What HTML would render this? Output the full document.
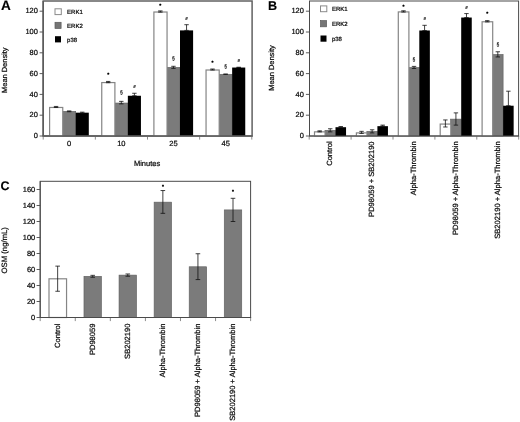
<!DOCTYPE html>
<html lang="en"><head><meta charset="utf-8"><title>Figure</title>
<style>
html,body{margin:0;padding:0;background:#fff;}
body{width:520px;height:422px;overflow:hidden;}
svg{display:block;filter:blur(0.35px);}
text{stroke:#000;stroke-width:.22px;text-rendering:geometricPrecision;}
</style></head><body>
<svg width="520" height="422" viewBox="0 0 520 422" font-family='&quot;Liberation Sans&quot;, Arial, sans-serif'>
<rect width="520" height="422" fill="#fff"/>
<rect x="43.20" y="1.00" width="208.90" height="135.00" fill="none" stroke="#5c5c5c" stroke-width="1.45"/>
<line x1="39.60" y1="136.00" x2="43.20" y2="136.00" stroke="#4a4a4a" stroke-width="0.9"/>
<text x="37.80" y="138.15" font-size="7.45" text-anchor="end" fill="#111">0</text>
<line x1="39.60" y1="115.20" x2="43.20" y2="115.20" stroke="#4a4a4a" stroke-width="0.9"/>
<text x="37.80" y="117.35" font-size="7.45" text-anchor="end" fill="#111">20</text>
<line x1="39.60" y1="94.40" x2="43.20" y2="94.40" stroke="#4a4a4a" stroke-width="0.9"/>
<text x="37.80" y="96.55" font-size="7.45" text-anchor="end" fill="#111">40</text>
<line x1="39.60" y1="73.60" x2="43.20" y2="73.60" stroke="#4a4a4a" stroke-width="0.9"/>
<text x="37.80" y="75.75" font-size="7.45" text-anchor="end" fill="#111">60</text>
<line x1="39.60" y1="52.80" x2="43.20" y2="52.80" stroke="#4a4a4a" stroke-width="0.9"/>
<text x="37.80" y="54.95" font-size="7.45" text-anchor="end" fill="#111">80</text>
<line x1="39.60" y1="32.00" x2="43.20" y2="32.00" stroke="#4a4a4a" stroke-width="0.9"/>
<text x="37.80" y="34.15" font-size="7.45" text-anchor="end" fill="#111">100</text>
<line x1="39.60" y1="11.20" x2="43.20" y2="11.20" stroke="#4a4a4a" stroke-width="0.9"/>
<text x="37.80" y="13.35" font-size="7.45" text-anchor="end" fill="#111">120</text>
<line x1="43.20" y1="136.00" x2="43.20" y2="139.60" stroke="#808080" stroke-width="0.9"/>
<line x1="95.35" y1="136.00" x2="95.35" y2="139.60" stroke="#808080" stroke-width="0.9"/>
<line x1="147.50" y1="136.00" x2="147.50" y2="139.60" stroke="#808080" stroke-width="0.9"/>
<line x1="199.65" y1="136.00" x2="199.65" y2="139.60" stroke="#808080" stroke-width="0.9"/>
<line x1="251.80" y1="136.00" x2="251.80" y2="139.60" stroke="#808080" stroke-width="0.9"/>
<text x="1.00" y="10.00" font-size="13.6" text-anchor="start" fill="#000" font-weight="bold" style="stroke-width:.12px">A</text>
<text x="6.80" y="70.20" font-size="7.45" text-anchor="middle" fill="#111" transform="rotate(-90 6.80 70.20)">Mean Density</text>
<rect x="55.00" y="8.80" width="6.30" height="5.80" fill="#fff" stroke="#8a8a8a" stroke-width="1"/>
<text x="67.10" y="13.80" font-size="6.0" text-anchor="start" fill="#111">ERK1</text>
<rect x="55.00" y="22.30" width="6.10" height="6.20" fill="#757575" stroke="#5a5a5a" stroke-width="0.7"/>
<text x="67.10" y="27.60" font-size="6.0" text-anchor="start" fill="#111">ERK2</text>
<rect x="55.00" y="36.20" width="6.00" height="6.20" fill="#000"/>
<text x="67.10" y="41.50" font-size="6.0" text-anchor="start" fill="#111">p38</text>
<rect x="62.60" y="111.33" width="13.10" height="24.67" fill="#7b7b7b" stroke="#5e5e5e" stroke-width="0.6"/>
<line x1="69.15" y1="110.91" x2="69.15" y2="111.74" stroke="#111" stroke-width="0.8"/>
<line x1="66.95" y1="110.91" x2="71.35" y2="110.91" stroke="#111" stroke-width="0.8"/>
<line x1="66.95" y1="111.74" x2="71.35" y2="111.74" stroke="#111" stroke-width="0.8"/>
<rect x="75.70" y="112.67" width="13.10" height="23.33" fill="#000"/>
<line x1="82.25" y1="112.16" x2="82.25" y2="113.19" stroke="#111" stroke-width="0.8"/>
<line x1="80.05" y1="112.16" x2="84.45" y2="112.16" stroke="#111" stroke-width="0.8"/>
<line x1="80.05" y1="113.19" x2="84.45" y2="113.19" stroke="#111" stroke-width="0.8"/>
<rect x="49.60" y="107.47" width="13.15" height="28.53" fill="#fff" stroke="#858585" stroke-width="1.2"/>
<line x1="56.05" y1="106.45" x2="56.05" y2="107.49" stroke="#111" stroke-width="0.8"/>
<line x1="53.85" y1="106.45" x2="58.25" y2="106.45" stroke="#111" stroke-width="0.8"/>
<line x1="53.85" y1="107.49" x2="58.25" y2="107.49" stroke="#111" stroke-width="0.8"/>
<rect x="114.75" y="103.03" width="13.10" height="32.97" fill="#7b7b7b" stroke="#5e5e5e" stroke-width="0.6"/>
<line x1="121.30" y1="101.37" x2="121.30" y2="103.86" stroke="#111" stroke-width="0.8"/>
<line x1="119.10" y1="101.37" x2="123.50" y2="101.37" stroke="#111" stroke-width="0.8"/>
<line x1="119.10" y1="103.86" x2="123.50" y2="103.86" stroke="#111" stroke-width="0.8"/>
<text x="121.30" y="94.20" font-size="5.1" text-anchor="middle" fill="#222" style="stroke-width:.18px">§</text>
<rect x="127.85" y="95.76" width="13.10" height="40.24" fill="#000"/>
<line x1="134.40" y1="93.27" x2="134.40" y2="95.76" stroke="#111" stroke-width="0.8"/>
<line x1="132.20" y1="93.27" x2="136.60" y2="93.27" stroke="#111" stroke-width="0.8"/>
<line x1="132.20" y1="95.76" x2="136.60" y2="95.76" stroke="#111" stroke-width="0.8"/>
<text x="134.40" y="88.10" font-size="4.3" text-anchor="middle" font-style="italic" font-weight="bold" fill="#111" style="stroke-width:.1px">#</text>
<rect x="101.75" y="82.57" width="13.15" height="53.43" fill="#fff" stroke="#858585" stroke-width="1.2"/>
<line x1="108.20" y1="81.45" x2="108.20" y2="82.69" stroke="#111" stroke-width="0.8"/>
<line x1="106.00" y1="81.45" x2="110.40" y2="81.45" stroke="#111" stroke-width="0.8"/>
<line x1="106.00" y1="82.69" x2="110.40" y2="82.69" stroke="#111" stroke-width="0.8"/>
<text x="108.20" y="76.30" font-size="7" text-anchor="middle" fill="#000">•</text>
<rect x="166.90" y="67.34" width="13.10" height="68.66" fill="#7b7b7b" stroke="#5e5e5e" stroke-width="0.6"/>
<line x1="173.45" y1="66.30" x2="173.45" y2="68.37" stroke="#111" stroke-width="0.8"/>
<line x1="171.25" y1="66.30" x2="175.65" y2="66.30" stroke="#111" stroke-width="0.8"/>
<line x1="171.25" y1="68.37" x2="175.65" y2="68.37" stroke="#111" stroke-width="0.8"/>
<text x="173.45" y="60.00" font-size="5.1" text-anchor="middle" fill="#222" style="stroke-width:.18px">§</text>
<rect x="180.00" y="30.40" width="13.10" height="105.60" fill="#000"/>
<line x1="186.55" y1="24.69" x2="186.55" y2="30.40" stroke="#111" stroke-width="0.8"/>
<line x1="184.35" y1="24.69" x2="188.75" y2="24.69" stroke="#111" stroke-width="0.8"/>
<line x1="184.35" y1="30.40" x2="188.75" y2="30.40" stroke="#111" stroke-width="0.8"/>
<text x="186.55" y="20.35" font-size="4.3" text-anchor="middle" font-style="italic" font-weight="bold" fill="#111" style="stroke-width:.1px">#</text>
<rect x="153.90" y="12.02" width="13.15" height="123.98" fill="#fff" stroke="#858585" stroke-width="1.2"/>
<line x1="160.35" y1="10.90" x2="160.35" y2="12.14" stroke="#111" stroke-width="0.8"/>
<line x1="158.15" y1="10.90" x2="162.55" y2="10.90" stroke="#111" stroke-width="0.8"/>
<line x1="158.15" y1="12.14" x2="162.55" y2="12.14" stroke="#111" stroke-width="0.8"/>
<text x="160.35" y="7.10" font-size="7" text-anchor="middle" fill="#000">•</text>
<rect x="219.05" y="74.29" width="13.10" height="61.71" fill="#7b7b7b" stroke="#5e5e5e" stroke-width="0.6"/>
<line x1="225.60" y1="74.03" x2="225.60" y2="74.39" stroke="#111" stroke-width="0.8"/>
<line x1="223.40" y1="74.03" x2="227.80" y2="74.03" stroke="#111" stroke-width="0.8"/>
<line x1="223.40" y1="74.39" x2="227.80" y2="74.39" stroke="#111" stroke-width="0.8"/>
<text x="225.60" y="67.90" font-size="5.1" text-anchor="middle" fill="#222" style="stroke-width:.18px">§</text>
<rect x="232.15" y="67.54" width="13.10" height="68.46" fill="#000"/>
<line x1="238.70" y1="67.23" x2="238.70" y2="67.54" stroke="#111" stroke-width="0.8"/>
<line x1="236.50" y1="67.23" x2="240.90" y2="67.23" stroke="#111" stroke-width="0.8"/>
<line x1="236.50" y1="67.54" x2="240.90" y2="67.54" stroke="#111" stroke-width="0.8"/>
<text x="238.70" y="61.80" font-size="4.3" text-anchor="middle" font-style="italic" font-weight="bold" fill="#111" style="stroke-width:.1px">#</text>
<rect x="206.05" y="70.01" width="13.15" height="65.99" fill="#fff" stroke="#858585" stroke-width="1.2"/>
<line x1="212.50" y1="69.00" x2="212.50" y2="70.03" stroke="#111" stroke-width="0.8"/>
<line x1="210.30" y1="69.00" x2="214.70" y2="69.00" stroke="#111" stroke-width="0.8"/>
<line x1="210.30" y1="70.03" x2="214.70" y2="70.03" stroke="#111" stroke-width="0.8"/>
<text x="212.50" y="63.80" font-size="7" text-anchor="middle" fill="#000">•</text>
<line x1="42.70" y1="136.00" x2="252.60" y2="136.00" stroke="#5c5c5c" stroke-width="1.45"/>
<line x1="43.20" y1="1.00" x2="43.20" y2="136.00" stroke="#5c5c5c" stroke-width="1.45"/>
<text x="69.20" y="146.20" font-size="7.5" text-anchor="middle" fill="#111">0</text>
<text x="121.35" y="146.20" font-size="7.5" text-anchor="middle" fill="#111">10</text>
<text x="173.50" y="146.20" font-size="7.5" text-anchor="middle" fill="#111">25</text>
<text x="225.65" y="146.20" font-size="7.5" text-anchor="middle" fill="#111">45</text>
<text x="147.10" y="165.50" font-size="7.5" text-anchor="middle" fill="#111">Minutes</text>
<rect x="309.50" y="1.00" width="209.10" height="135.00" fill="none" stroke="#4a4a4a" stroke-width="1"/>
<line x1="305.90" y1="136.00" x2="309.50" y2="136.00" stroke="#4a4a4a" stroke-width="0.9"/>
<text x="303.80" y="138.15" font-size="7.45" text-anchor="end" fill="#111">0</text>
<line x1="305.90" y1="115.20" x2="309.50" y2="115.20" stroke="#4a4a4a" stroke-width="0.9"/>
<text x="303.80" y="117.35" font-size="7.45" text-anchor="end" fill="#111">20</text>
<line x1="305.90" y1="94.40" x2="309.50" y2="94.40" stroke="#4a4a4a" stroke-width="0.9"/>
<text x="303.80" y="96.55" font-size="7.45" text-anchor="end" fill="#111">40</text>
<line x1="305.90" y1="73.60" x2="309.50" y2="73.60" stroke="#4a4a4a" stroke-width="0.9"/>
<text x="303.80" y="75.75" font-size="7.45" text-anchor="end" fill="#111">60</text>
<line x1="305.90" y1="52.80" x2="309.50" y2="52.80" stroke="#4a4a4a" stroke-width="0.9"/>
<text x="303.80" y="54.95" font-size="7.45" text-anchor="end" fill="#111">80</text>
<line x1="305.90" y1="32.00" x2="309.50" y2="32.00" stroke="#4a4a4a" stroke-width="0.9"/>
<text x="303.80" y="34.15" font-size="7.45" text-anchor="end" fill="#111">100</text>
<line x1="305.90" y1="11.20" x2="309.50" y2="11.20" stroke="#4a4a4a" stroke-width="0.9"/>
<text x="303.80" y="13.35" font-size="7.45" text-anchor="end" fill="#111">120</text>
<line x1="309.20" y1="136.00" x2="309.20" y2="139.60" stroke="#808080" stroke-width="0.9"/>
<line x1="351.10" y1="136.00" x2="351.10" y2="139.60" stroke="#808080" stroke-width="0.9"/>
<line x1="393.00" y1="136.00" x2="393.00" y2="139.60" stroke="#808080" stroke-width="0.9"/>
<line x1="434.90" y1="136.00" x2="434.90" y2="139.60" stroke="#808080" stroke-width="0.9"/>
<line x1="476.80" y1="136.00" x2="476.80" y2="139.60" stroke="#808080" stroke-width="0.9"/>
<line x1="518.70" y1="136.00" x2="518.70" y2="139.60" stroke="#808080" stroke-width="0.9"/>
<text x="267.90" y="10.10" font-size="12.6" text-anchor="start" fill="#000" font-weight="bold" style="stroke-width:.12px">B</text>
<text x="274.20" y="68.00" font-size="7.45" text-anchor="middle" fill="#111" transform="rotate(-90 274.20 68.00)">Mean Density</text>
<rect x="320.50" y="5.90" width="6.30" height="5.80" fill="#fff" stroke="#8a8a8a" stroke-width="1"/>
<text x="331.90" y="10.90" font-size="6.0" text-anchor="start" fill="#111">ERK1</text>
<rect x="320.50" y="20.60" width="6.10" height="6.20" fill="#757575" stroke="#5a5a5a" stroke-width="0.7"/>
<text x="331.90" y="25.90" font-size="6.0" text-anchor="start" fill="#111">ERK2</text>
<rect x="320.50" y="35.50" width="6.00" height="6.20" fill="#000"/>
<text x="331.90" y="40.80" font-size="6.0" text-anchor="start" fill="#111">p38</text>
<rect x="324.95" y="130.31" width="10.55" height="5.69" fill="#7b7b7b" stroke="#5e5e5e" stroke-width="0.6"/>
<line x1="330.23" y1="128.76" x2="330.23" y2="131.87" stroke="#111" stroke-width="0.8"/>
<line x1="328.03" y1="128.76" x2="332.43" y2="128.76" stroke="#111" stroke-width="0.8"/>
<line x1="328.03" y1="131.87" x2="332.43" y2="131.87" stroke="#111" stroke-width="0.8"/>
<rect x="335.50" y="127.20" width="10.55" height="8.80" fill="#000"/>
<line x1="340.77" y1="126.58" x2="340.77" y2="127.20" stroke="#111" stroke-width="0.8"/>
<line x1="338.57" y1="126.58" x2="342.97" y2="126.58" stroke="#111" stroke-width="0.8"/>
<line x1="338.57" y1="127.20" x2="342.97" y2="127.20" stroke="#111" stroke-width="0.8"/>
<rect x="314.50" y="131.85" width="10.60" height="4.15" fill="#fff" stroke="#858585" stroke-width="1.2"/>
<line x1="319.67" y1="130.83" x2="319.67" y2="131.87" stroke="#111" stroke-width="0.8"/>
<line x1="317.47" y1="130.83" x2="321.87" y2="130.83" stroke="#111" stroke-width="0.8"/>
<line x1="317.47" y1="131.87" x2="321.87" y2="131.87" stroke="#111" stroke-width="0.8"/>
<rect x="366.85" y="131.35" width="10.55" height="4.65" fill="#7b7b7b" stroke="#5e5e5e" stroke-width="0.6"/>
<line x1="372.12" y1="129.79" x2="372.12" y2="132.91" stroke="#111" stroke-width="0.8"/>
<line x1="369.93" y1="129.79" x2="374.32" y2="129.79" stroke="#111" stroke-width="0.8"/>
<line x1="369.93" y1="132.91" x2="374.32" y2="132.91" stroke="#111" stroke-width="0.8"/>
<rect x="377.40" y="126.16" width="10.55" height="9.84" fill="#000"/>
<line x1="382.67" y1="125.12" x2="382.67" y2="126.16" stroke="#111" stroke-width="0.8"/>
<line x1="380.47" y1="125.12" x2="384.87" y2="125.12" stroke="#111" stroke-width="0.8"/>
<line x1="380.47" y1="126.16" x2="384.87" y2="126.16" stroke="#111" stroke-width="0.8"/>
<rect x="356.40" y="132.89" width="10.60" height="3.11" fill="#fff" stroke="#858585" stroke-width="1.2"/>
<line x1="361.57" y1="131.35" x2="361.57" y2="133.43" stroke="#111" stroke-width="0.8"/>
<line x1="359.37" y1="131.35" x2="363.77" y2="131.35" stroke="#111" stroke-width="0.8"/>
<line x1="359.37" y1="133.43" x2="363.77" y2="133.43" stroke="#111" stroke-width="0.8"/>
<rect x="408.75" y="67.44" width="10.55" height="68.56" fill="#7b7b7b" stroke="#5e5e5e" stroke-width="0.6"/>
<line x1="414.02" y1="66.40" x2="414.02" y2="68.48" stroke="#111" stroke-width="0.8"/>
<line x1="411.82" y1="66.40" x2="416.22" y2="66.40" stroke="#111" stroke-width="0.8"/>
<line x1="411.82" y1="68.48" x2="416.22" y2="68.48" stroke="#111" stroke-width="0.8"/>
<text x="414.02" y="60.75" font-size="5.1" text-anchor="middle" fill="#222" style="stroke-width:.18px">§</text>
<rect x="419.30" y="30.50" width="10.55" height="105.50" fill="#000"/>
<line x1="424.58" y1="25.32" x2="424.58" y2="30.50" stroke="#111" stroke-width="0.8"/>
<line x1="422.38" y1="25.32" x2="426.78" y2="25.32" stroke="#111" stroke-width="0.8"/>
<line x1="422.38" y1="30.50" x2="426.78" y2="30.50" stroke="#111" stroke-width="0.8"/>
<text x="424.58" y="20.35" font-size="4.3" text-anchor="middle" font-style="italic" font-weight="bold" fill="#111" style="stroke-width:.1px">#</text>
<rect x="398.30" y="11.91" width="10.60" height="124.09" fill="#fff" stroke="#858585" stroke-width="1.2"/>
<line x1="403.48" y1="10.79" x2="403.48" y2="12.04" stroke="#111" stroke-width="0.8"/>
<line x1="401.28" y1="10.79" x2="405.68" y2="10.79" stroke="#111" stroke-width="0.8"/>
<line x1="401.28" y1="12.04" x2="405.68" y2="12.04" stroke="#111" stroke-width="0.8"/>
<text x="403.48" y="7.60" font-size="7" text-anchor="middle" fill="#000">•</text>
<rect x="450.65" y="119.11" width="10.55" height="16.89" fill="#7b7b7b" stroke="#5e5e5e" stroke-width="0.6"/>
<line x1="455.92" y1="112.88" x2="455.92" y2="125.12" stroke="#111" stroke-width="0.8"/>
<line x1="453.72" y1="112.88" x2="458.12" y2="112.88" stroke="#111" stroke-width="0.8"/>
<line x1="453.72" y1="125.12" x2="458.12" y2="125.12" stroke="#111" stroke-width="0.8"/>
<rect x="461.20" y="17.54" width="10.55" height="118.46" fill="#000"/>
<line x1="466.48" y1="13.59" x2="466.48" y2="17.54" stroke="#111" stroke-width="0.8"/>
<line x1="464.28" y1="13.59" x2="468.68" y2="13.59" stroke="#111" stroke-width="0.8"/>
<line x1="464.28" y1="17.54" x2="468.68" y2="17.54" stroke="#111" stroke-width="0.8"/>
<text x="466.48" y="8.60" font-size="4.3" text-anchor="middle" font-style="italic" font-weight="bold" fill="#111" style="stroke-width:.1px">#</text>
<rect x="440.20" y="124.07" width="10.60" height="11.93" fill="#fff" stroke="#858585" stroke-width="1.2"/>
<line x1="445.38" y1="119.94" x2="445.38" y2="126.99" stroke="#111" stroke-width="0.8"/>
<line x1="443.18" y1="119.94" x2="447.57" y2="119.94" stroke="#111" stroke-width="0.8"/>
<line x1="443.18" y1="126.99" x2="447.57" y2="126.99" stroke="#111" stroke-width="0.8"/>
<rect x="492.55" y="54.47" width="10.55" height="81.53" fill="#7b7b7b" stroke="#5e5e5e" stroke-width="0.6"/>
<line x1="497.82" y1="51.77" x2="497.82" y2="56.96" stroke="#111" stroke-width="0.8"/>
<line x1="495.62" y1="51.77" x2="500.02" y2="51.77" stroke="#111" stroke-width="0.8"/>
<line x1="495.62" y1="56.96" x2="500.02" y2="56.96" stroke="#111" stroke-width="0.8"/>
<text x="497.82" y="45.75" font-size="5.1" text-anchor="middle" fill="#222" style="stroke-width:.18px">§</text>
<rect x="503.10" y="105.72" width="10.55" height="30.28" fill="#000"/>
<line x1="508.38" y1="91.20" x2="508.38" y2="105.72" stroke="#111" stroke-width="0.8"/>
<line x1="506.18" y1="91.20" x2="510.57" y2="91.20" stroke="#111" stroke-width="0.8"/>
<line x1="506.18" y1="105.72" x2="510.57" y2="105.72" stroke="#111" stroke-width="0.8"/>
<rect x="482.10" y="21.77" width="10.60" height="114.23" fill="#fff" stroke="#858585" stroke-width="1.2"/>
<line x1="487.27" y1="20.65" x2="487.27" y2="21.89" stroke="#111" stroke-width="0.8"/>
<line x1="485.07" y1="20.65" x2="489.47" y2="20.65" stroke="#111" stroke-width="0.8"/>
<line x1="485.07" y1="21.89" x2="489.47" y2="21.89" stroke="#111" stroke-width="0.8"/>
<text x="487.27" y="15.10" font-size="7" text-anchor="middle" fill="#000">•</text>
<line x1="309.00" y1="136.00" x2="519.10" y2="136.00" stroke="#4a4a4a" stroke-width="1"/>
<line x1="309.50" y1="1.00" x2="309.50" y2="136.00" stroke="#4a4a4a" stroke-width="1"/>
<text x="332.30" y="141.40" font-size="7.57" text-anchor="end" fill="#111" transform="rotate(-90 332.30 141.40)">Control</text>
<text x="374.20" y="141.40" font-size="7.57" text-anchor="end" fill="#111" transform="rotate(-90 374.20 141.40)">PD98059 + SB202190</text>
<text x="416.10" y="141.40" font-size="7.57" text-anchor="end" fill="#111" transform="rotate(-90 416.10 141.40)">Alpha-Thrombin</text>
<text x="458.00" y="141.40" font-size="7.57" text-anchor="end" fill="#111" transform="rotate(-90 458.00 141.40)">PD98059 + Alpha-Thrombin</text>
<text x="499.90" y="141.40" font-size="7.57" text-anchor="end" fill="#111" transform="rotate(-90 499.90 141.40)">SB202190 + Alpha-Thrombin</text>
<rect x="40.20" y="181.30" width="210.40" height="136.20" fill="none" stroke="#4a4a4a" stroke-width="1"/>
<line x1="36.60" y1="317.50" x2="40.20" y2="317.50" stroke="#4a4a4a" stroke-width="0.9"/>
<text x="35.20" y="319.55" font-size="7.45" text-anchor="end" fill="#111">0</text>
<line x1="36.60" y1="301.50" x2="40.20" y2="301.50" stroke="#4a4a4a" stroke-width="0.9"/>
<text x="35.20" y="303.55" font-size="7.45" text-anchor="end" fill="#111">20</text>
<line x1="36.60" y1="285.50" x2="40.20" y2="285.50" stroke="#4a4a4a" stroke-width="0.9"/>
<text x="35.20" y="287.55" font-size="7.45" text-anchor="end" fill="#111">40</text>
<line x1="36.60" y1="269.50" x2="40.20" y2="269.50" stroke="#4a4a4a" stroke-width="0.9"/>
<text x="35.20" y="271.55" font-size="7.45" text-anchor="end" fill="#111">60</text>
<line x1="36.60" y1="253.50" x2="40.20" y2="253.50" stroke="#4a4a4a" stroke-width="0.9"/>
<text x="35.20" y="255.55" font-size="7.45" text-anchor="end" fill="#111">80</text>
<line x1="36.60" y1="237.50" x2="40.20" y2="237.50" stroke="#4a4a4a" stroke-width="0.9"/>
<text x="35.20" y="239.55" font-size="7.45" text-anchor="end" fill="#111">100</text>
<line x1="36.60" y1="221.50" x2="40.20" y2="221.50" stroke="#4a4a4a" stroke-width="0.9"/>
<text x="35.20" y="223.55" font-size="7.45" text-anchor="end" fill="#111">120</text>
<line x1="36.60" y1="205.50" x2="40.20" y2="205.50" stroke="#4a4a4a" stroke-width="0.9"/>
<text x="35.20" y="207.55" font-size="7.45" text-anchor="end" fill="#111">140</text>
<line x1="36.60" y1="189.50" x2="40.20" y2="189.50" stroke="#4a4a4a" stroke-width="0.9"/>
<text x="35.20" y="191.55" font-size="7.45" text-anchor="end" fill="#111">160</text>
<line x1="40.20" y1="317.50" x2="40.20" y2="321.10" stroke="#808080" stroke-width="0.9"/>
<line x1="75.27" y1="317.50" x2="75.27" y2="321.10" stroke="#808080" stroke-width="0.9"/>
<line x1="110.34" y1="317.50" x2="110.34" y2="321.10" stroke="#808080" stroke-width="0.9"/>
<line x1="145.41" y1="317.50" x2="145.41" y2="321.10" stroke="#808080" stroke-width="0.9"/>
<line x1="180.48" y1="317.50" x2="180.48" y2="321.10" stroke="#808080" stroke-width="0.9"/>
<line x1="215.55" y1="317.50" x2="215.55" y2="321.10" stroke="#808080" stroke-width="0.9"/>
<line x1="250.62" y1="317.50" x2="250.62" y2="321.10" stroke="#808080" stroke-width="0.9"/>
<text x="0.50" y="190.00" font-size="12.5" text-anchor="start" fill="#000" font-weight="bold" style="stroke-width:.12px">C</text>
<text x="6.90" y="250.30" font-size="7.72" text-anchor="middle" fill="#111" transform="rotate(-90 6.90 250.30)">OSM (ng/mL)</text>
<rect x="49.00" y="278.80" width="17.55" height="38.70" fill="#fff" stroke="#858585" stroke-width="1.2"/>
<line x1="57.65" y1="266.14" x2="57.65" y2="291.26" stroke="#111" stroke-width="0.8"/>
<line x1="55.35" y1="266.14" x2="59.95" y2="266.14" stroke="#111" stroke-width="0.8"/>
<line x1="55.35" y1="291.26" x2="59.95" y2="291.26" stroke="#111" stroke-width="0.8"/>
<rect x="83.97" y="276.30" width="17.50" height="41.20" fill="#7b7b7b" stroke="#5e5e5e" stroke-width="0.6"/>
<line x1="92.72" y1="275.34" x2="92.72" y2="277.26" stroke="#111" stroke-width="0.8"/>
<line x1="90.42" y1="275.34" x2="95.02" y2="275.34" stroke="#111" stroke-width="0.8"/>
<line x1="90.42" y1="277.26" x2="95.02" y2="277.26" stroke="#111" stroke-width="0.8"/>
<rect x="119.04" y="275.10" width="17.50" height="42.40" fill="#7b7b7b" stroke="#5e5e5e" stroke-width="0.6"/>
<line x1="127.79" y1="273.98" x2="127.79" y2="276.22" stroke="#111" stroke-width="0.8"/>
<line x1="125.49" y1="273.98" x2="130.09" y2="273.98" stroke="#111" stroke-width="0.8"/>
<line x1="125.49" y1="276.22" x2="130.09" y2="276.22" stroke="#111" stroke-width="0.8"/>
<rect x="154.11" y="202.14" width="17.50" height="115.36" fill="#7b7b7b" stroke="#5e5e5e" stroke-width="0.6"/>
<line x1="162.86" y1="190.54" x2="162.86" y2="213.34" stroke="#111" stroke-width="0.8"/>
<line x1="160.56" y1="190.54" x2="165.16" y2="190.54" stroke="#111" stroke-width="0.8"/>
<line x1="160.56" y1="213.34" x2="165.16" y2="213.34" stroke="#111" stroke-width="0.8"/>
<text x="162.86" y="188.40" font-size="7" text-anchor="middle" fill="#000">•</text>
<rect x="189.18" y="266.78" width="17.50" height="50.72" fill="#7b7b7b" stroke="#5e5e5e" stroke-width="0.6"/>
<line x1="197.93" y1="253.74" x2="197.93" y2="279.58" stroke="#111" stroke-width="0.8"/>
<line x1="195.63" y1="253.74" x2="200.23" y2="253.74" stroke="#111" stroke-width="0.8"/>
<line x1="195.63" y1="279.58" x2="200.23" y2="279.58" stroke="#111" stroke-width="0.8"/>
<rect x="224.25" y="209.90" width="17.50" height="107.60" fill="#7b7b7b" stroke="#5e5e5e" stroke-width="0.6"/>
<line x1="233.00" y1="198.30" x2="233.00" y2="221.50" stroke="#111" stroke-width="0.8"/>
<line x1="230.70" y1="198.30" x2="235.30" y2="198.30" stroke="#111" stroke-width="0.8"/>
<line x1="230.70" y1="221.50" x2="235.30" y2="221.50" stroke="#111" stroke-width="0.8"/>
<text x="233.00" y="193.30" font-size="7" text-anchor="middle" fill="#000">•</text>
<line x1="39.70" y1="317.50" x2="251.10" y2="317.50" stroke="#4a4a4a" stroke-width="1"/>
<line x1="40.20" y1="181.30" x2="40.20" y2="317.50" stroke="#4a4a4a" stroke-width="1"/>
<text x="59.95" y="323.60" font-size="7.55" text-anchor="end" fill="#111" transform="rotate(-90 59.95 323.60)">Control</text>
<text x="95.02" y="323.60" font-size="7.55" text-anchor="end" fill="#111" transform="rotate(-90 95.02 323.60)">PD98059</text>
<text x="130.09" y="323.60" font-size="7.55" text-anchor="end" fill="#111" transform="rotate(-90 130.09 323.60)">SB202190</text>
<text x="165.16" y="323.60" font-size="7.55" text-anchor="end" fill="#111" transform="rotate(-90 165.16 323.60)">Alpha-Thrombin</text>
<text x="200.23" y="323.60" font-size="7.55" text-anchor="end" fill="#111" transform="rotate(-90 200.23 323.60)">PD98059 + Alpha-Thrombin</text>
<text x="235.30" y="323.60" font-size="7.55" text-anchor="end" fill="#111" transform="rotate(-90 235.30 323.60)">SB202190 + Alpha-Thrombin</text>
</svg>
</body></html>
